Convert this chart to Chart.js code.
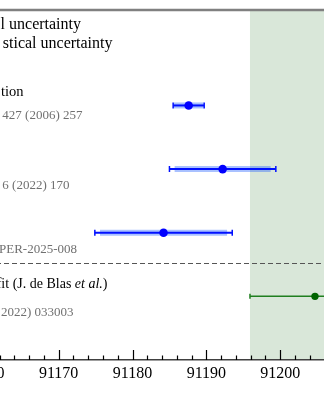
<!DOCTYPE html>
<html>
<head>
<meta charset="utf-8">
<script src="https://cdn.jsdelivr.net/npm/chart.js@4/dist/chart.umd.min.js"></script>
<style>
  html, body { margin: 0; padding: 0; background: #fff; overflow: hidden; }
  #wrap { position: relative; width: 324px; height: 400px; overflow: hidden; }
  #wrap canvas { position: absolute; left: -60px; top: 0; }
</style>
</head>
<body>
<div id="wrap"><canvas id="mz" width="384" height="400"></canvas></div>
<script>
// Z mass measurements (MeV): central value, total and statistical half-widths
const mzCentral = [91187.6, 91192.2, 91184.2];
const mzTotal = [2.1, 7.2, 9.3];
const mzStat = [2.0, 6.5, 8.6];
const mzRows = [1.5, 2.5, 3.5];

// indirect determination from the global electroweak fit
const fitCentral = [91204.7];
const fitError = [8.8];
const fitRows = [4.5];

const separatorRow = 3.97;
const xMajorStep = 10;
const xMinorStep = 2;
const xMin = 91153.94;
const xMax = 91205.92;

const SERIF = "'Liberation Serif', 'Times New Roman', serif";
const SHIFT = 60; // canvas sits 60px left of the visible window

// text blocks drawn over the plot
const notes = [
  { parts: [["l uncertainty", ""]], size: 16, color: "#000", right: 81, y: 25 },
  { parts: [["stical uncertainty", ""]], size: 16, color: "#000", right: 112.5, y: 44 },
  { parts: [["tion", ""]], size: 14.5, color: "#000", right: 23.5, y: 92 },
  { parts: [["427 (2006) 257", ""]], size: 13, color: "#707070", right: 82.5, y: 116 },
  { parts: [["6 (2022) 170", ""]], size: 13, color: "#707070", right: 69.5, y: 185.5 },
  { parts: [["PER-2025-008", ""]], size: 13, color: "#707070", right: 77, y: 249.5 },
  { parts: [["fit (J. de Blas ", ""], ["et al.", "italic "], [")", ""]], size: 14, color: "#000", right: 107.5, y: 284 },
  { parts: [["2022) 033003", ""]], size: 13, color: "#707070", right: 73.5, y: 313 },
];

const decorations = {
  id: "decorations",
  beforeDraw(chart) {
    const { ctx, chartArea } = chart;
    const x = chart.scales.x;
    ctx.save();
    // fit band
    const l = x.getPixelForValue(fitCentral[0] - fitError[0]);
    const r = x.getPixelForValue(fitCentral[0] + fitError[0]);
    ctx.fillStyle = "#d9e7d9";
    ctx.fillRect(l, chartArea.top, r - l, chartArea.bottom - chartArea.top);
    // upper frame
    ctx.strokeStyle = "#808080";
    ctx.lineWidth = 2.5;
    ctx.beginPath();
    ctx.moveTo(chartArea.left, chartArea.top);
    ctx.lineTo(chartArea.right, chartArea.top);
    ctx.stroke();
    ctx.restore();
  },
  beforeDatasetsDraw(chart) {
    const { ctx, chartArea } = chart;
    const x = chart.scales.x;
    const y = chart.scales.y;
    ctx.save();

    // ticks pointing into the plot
    ctx.strokeStyle = "#000";
    ctx.lineWidth = 1.2;
    const start = Math.ceil(xMin / xMinorStep) * xMinorStep;
    for (let v = start; v <= xMax; v += xMinorStep) {
      const px = Math.round(x.getPixelForValue(v)) + 0.5;
      const len = v % xMajorStep === 0 ? 10 : 4.5;
      ctx.beginPath();
      ctx.moveTo(px, chartArea.bottom);
      ctx.lineTo(px, chartArea.bottom - len);
      ctx.stroke();
    }

    // separator between measurements and fit
    const sy = Math.round(y.getPixelForValue(separatorRow)) + 0.5;
    ctx.strokeStyle = "#555";
    ctx.lineWidth = 1;
    ctx.setLineDash([5, 3]);
    ctx.beginPath();
    ctx.moveTo(chartArea.left, sy);
    ctx.lineTo(chartArea.right, sy);
    ctx.stroke();
    ctx.setLineDash([]);

    // measurement error bars
    mzCentral.forEach((c, i) => {
      const py = y.getPixelForValue(mzRows[i]);
      const s0 = x.getPixelForValue(c - mzStat[i]);
      const s1 = x.getPixelForValue(c + mzStat[i]);
      const t0 = x.getPixelForValue(c - mzTotal[i]);
      const t1 = x.getPixelForValue(c + mzTotal[i]);
      ctx.strokeStyle = "rgba(40, 100, 255, 0.4)";
      ctx.lineWidth = 6;
      ctx.beginPath();
      ctx.moveTo(s0, py);
      ctx.lineTo(s1, py);
      ctx.stroke();
      ctx.strokeStyle = "#0010ff";
      ctx.lineWidth = 2;
      ctx.beginPath();
      ctx.moveTo(t0, py);
      ctx.lineTo(t1, py);
      ctx.stroke();
      ctx.lineWidth = 1.5;
      ctx.beginPath();
      ctx.moveTo(t0, py - 3);
      ctx.lineTo(t0, py + 3);
      ctx.moveTo(t1, py - 3);
      ctx.lineTo(t1, py + 3);
      ctx.stroke();
    });

    // fit error bar
    fitCentral.forEach((c, i) => {
      const py = y.getPixelForValue(fitRows[i]);
      const t0 = x.getPixelForValue(c - fitError[i]);
      const t1 = x.getPixelForValue(c + fitError[i]);
      ctx.strokeStyle = "#1f7f1f";
      ctx.lineWidth = 1.5;
      ctx.beginPath();
      ctx.moveTo(t0, py);
      ctx.lineTo(t1, py);
      ctx.moveTo(t0, py - 2.5);
      ctx.lineTo(t0, py + 2.5);
      ctx.moveTo(t1, py - 2.5);
      ctx.lineTo(t1, py + 2.5);
      ctx.stroke();
    });

    // text blocks, right-aligned
    ctx.textBaseline = "middle";
    ctx.textAlign = "left";
    notes.forEach((n) => {
      ctx.fillStyle = n.color;
      let total = 0;
      n.parts.forEach(([t, style]) => {
        ctx.font = style + n.size + "px " + SERIF;
        total += ctx.measureText(t).width;
      });
      let px = SHIFT + n.right - total;
      n.parts.forEach(([t, style]) => {
        ctx.font = style + n.size + "px " + SERIF;
        ctx.fillText(t, px, n.y);
        px += ctx.measureText(t).width;
      });
    });
    ctx.restore();
  },
};

new Chart(document.getElementById("mz"), {
  type: "scatter",
  data: {
    datasets: [
      {
        data: mzCentral.map((v, i) => ({ x: v, y: mzRows[i] })),
        backgroundColor: "#0000ff",
        borderColor: "#0000ff",
        pointRadius: 4.3,
        pointBorderWidth: 0,
      },
      {
        data: fitCentral.map((v, i) => ({ x: v, y: fitRows[i] })),
        backgroundColor: "#006400",
        borderColor: "#006400",
        pointRadius: 3.7,
        pointBorderWidth: 0,
      },
    ],
  },
  options: {
    responsive: false,
    animation: false,
    events: [],
    layout: { autoPadding: false, padding: { top: 10, left: 0, right: 0, bottom: 0 } },
    plugins: {
      legend: { display: false },
      tooltip: { enabled: false },
    },
    scales: {
      x: {
        type: "linear",
        min: xMin,
        max: xMax,
        grid: { display: false, drawTicks: false },
        border: { display: true, color: "#404040", width: 1.5 },
        ticks: {
          stepSize: xMajorStep,
          includeBounds: false,
          autoSkip: false,
          maxRotation: 0,
          padding: 4,
          color: "#000",
          font: { family: SERIF, size: 16 },
          callback: (v) => String(v),
        },
        afterFit: (scale) => {
          scale.height = 40;
        },
      },
      y: {
        type: "linear",
        display: false,
        reverse: true,
        min: 0,
        max: 5.5,
      },
    },
  },
  plugins: [decorations],
});
</script>
</body>
</html>
